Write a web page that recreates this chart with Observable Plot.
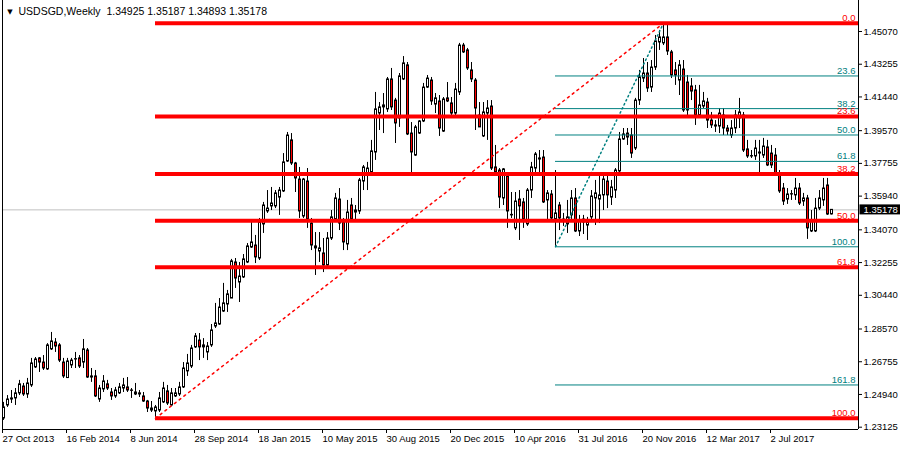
<!DOCTYPE html>
<html><head><meta charset="utf-8">
<script src="https://cdn.jsdelivr.net/npm/d3@7"></script>
<script src="https://cdn.jsdelivr.net/npm/@observablehq/plot@0.6"></script>
<style>html,body{margin:0;padding:0;background:#fff;}</style>
</head><body>
<div id="chart"></div>
<script>
const symbol = "USDSGD";
const timeframe = "Weekly";
const firstWeek = "2013-10-27";

const open = [
1.2361,1.2433,1.2466,1.2472,1.2500,1.2538,1.2494,1.2544,1.2644,1.2694,
1.2671,1.2633,1.2744,1.2782,1.2766,1.2671,1.2585,1.2655,1.2688,1.2694,
1.2671,1.2738,1.2594,1.2594,1.2466,1.2522,1.2550,1.2505,1.2483,1.2500,
1.2527,1.2533,1.2516,1.2505,1.2500,1.2483,1.2455,1.2416,1.2400,1.2405,
1.2450,1.2511,1.2433,1.2483,1.2494,1.2533,1.2622,1.2649,1.2755,1.2793,
1.2766,1.2727,1.2766,1.2871,1.2882,1.2954,1.2993,1.3026,1.3226,1.3115,
1.3143,1.3226,1.3309,1.3320,1.3248,1.3437,1.3509,1.3537,1.3537,1.3586,
1.3620,1.3786,1.3903,1.3775,1.3686,1.3481,1.3675,1.3442,1.3315,1.3287,
1.3276,1.3209,1.3359,1.3464,1.3575,1.3448,1.3326,1.3542,1.3503,1.3509,
1.3675,1.3708,1.3725,1.3836,1.4052,1.4086,1.4075,1.4241,1.4124,1.4025,
1.4241,1.4319,1.3941,1.3819,1.3941,1.4008,1.4196,1.4235,1.4102,1.4119,
1.3952,1.4136,1.4108,1.4052,1.4169,1.4429,1.4402,1.4291,1.4235,1.4041,
1.3925,1.4052,1.4091,1.3753,1.3736,1.3581,1.3703,1.3487,1.3415,1.3575,
1.3559,1.3437,1.3625,1.3747,1.3803,1.3808,1.3570,1.3603,1.3464,1.3542,
1.3464,1.3437,1.3487,1.3581,1.3398,1.3448,1.3431,1.3476,1.3581,1.3575,
1.3598,1.3675,1.3586,1.3625,1.3731,1.3908,1.3941,1.3930,1.3858,1.4124,
1.4246,1.4274,1.4196,1.4307,1.4446,1.4441,1.4474,1.4391,1.4291,1.4235,
1.4296,1.4224,1.4202,1.4180,1.4041,1.4091,1.4113,1.4013,1.3986,1.3980,
1.4041,1.3969,1.3930,1.3969,1.4025,1.4041,1.3853,1.3814,1.3814,1.3830,
1.3819,1.3864,1.3830,1.3819,1.3708,1.3636,1.3575,1.3603,1.3598,1.3636,
1.3564,1.3581,1.3398,1.3398,1.3525,1.3570,1.3653,1.34925
];
const high = [
1.2450,1.2488,1.2516,1.2527,1.2572,1.2555,1.2583,1.2694,1.2699,1.2699,
1.2710,1.2776,1.2838,1.2804,1.2776,1.2694,1.2694,1.2694,1.2727,1.2710,
1.2799,1.2749,1.2638,1.2627,1.2544,1.2599,1.2572,1.2527,1.2533,1.2555,
1.2583,1.2588,1.2527,1.2555,1.2516,1.2505,1.2461,1.2455,1.2433,1.2505,
1.2561,1.2544,1.2527,1.2527,1.2561,1.2671,1.2716,1.2766,1.2832,1.2832,
1.2804,1.2782,1.2882,1.2999,1.3026,1.3110,1.3071,1.3243,1.3248,1.3226,
1.3270,1.3331,1.3448,1.3376,1.3470,1.3559,1.3625,1.3642,1.3625,1.3642,
1.3830,1.3947,1.3941,1.3781,1.3753,1.3692,1.3747,1.3470,1.3392,1.3392,
1.3359,1.3392,1.3514,1.3609,1.3636,1.3470,1.3570,1.3581,1.3542,1.3692,
1.3764,1.3781,1.3903,1.4169,1.4113,1.4163,1.4252,1.4302,1.4136,1.4274,
1.4368,1.4335,1.4002,1.3986,1.4013,1.4219,1.4263,1.4252,1.4163,1.4152,
1.4141,1.4224,1.4141,1.4219,1.4441,1.4441,1.4413,1.4335,1.4246,1.4113,
1.4113,1.4124,1.4124,1.3875,1.3747,1.3747,1.3708,1.3614,1.3614,1.3625,
1.3581,1.3636,1.3781,1.3836,1.3847,1.3847,1.3625,1.3625,1.3736,1.3559,
1.3498,1.3570,1.3625,1.3636,1.3487,1.3487,1.3476,1.3625,1.3681,1.3714,
1.3708,1.3708,1.3681,1.3747,1.3947,1.3969,1.3969,1.3969,1.4136,1.4291,
1.4357,1.4335,1.4346,1.4485,1.4513,1.4553,1.4540,1.4402,1.4335,1.4346,
1.4346,1.4263,1.4246,1.4208,1.4208,1.4169,1.4136,1.4058,1.4013,1.4080,
1.4080,1.3986,1.4013,1.4069,1.4136,1.4058,1.3903,1.3847,1.3903,1.3903,
1.3914,1.3903,1.3875,1.3858,1.3736,1.3664,1.3636,1.3625,1.3692,1.3664,
1.3609,1.3598,1.3514,1.3581,1.3625,1.3692,1.3692,1.35187
];
const low = [
1.2350,1.2422,1.2444,1.2433,1.2488,1.2483,1.2472,1.2533,1.2638,1.2616,
1.2627,1.2627,1.2738,1.2727,1.2671,1.2583,1.2583,1.2638,1.2638,1.2638,
1.2638,1.2583,1.2561,1.2477,1.2450,1.2505,1.2516,1.2461,1.2472,1.2494,
1.2505,1.2505,1.2472,1.2488,1.2477,1.2450,1.2394,1.2394,1.2362,1.2394,
1.2444,1.2433,1.2428,1.2477,1.2483,1.2527,1.2594,1.2638,1.2749,1.2682,
1.2694,1.2682,1.2755,1.2860,1.2877,1.2949,1.2949,1.3026,1.3082,1.3004,
1.3137,1.3220,1.3304,1.3220,1.3237,1.3387,1.3498,1.3514,1.3525,1.3487,
1.3614,1.3781,1.3764,1.3614,1.3470,1.3470,1.3415,1.3292,1.3154,1.3226,
1.3170,1.3193,1.3348,1.3448,1.3403,1.3292,1.3292,1.3448,1.3448,1.3492,
1.3625,1.3625,1.3720,1.3792,1.3958,1.3941,1.4058,1.4069,1.3886,1.3975,
1.4235,1.3930,1.3725,1.3814,1.3936,1.4002,1.4191,1.4097,1.4052,1.3925,
1.3947,1.4113,1.4041,1.4030,1.4152,1.4385,1.4291,1.4224,1.3958,1.3975,
1.3919,1.3903,1.3736,1.3720,1.3525,1.3542,1.3415,1.3470,1.3403,1.3348,
1.3415,1.3426,1.3581,1.3725,1.3725,1.3553,1.3459,1.3459,1.3313,1.3403,
1.3426,1.3387,1.3448,1.3392,1.3370,1.3381,1.3348,1.3448,1.3431,1.3442,
1.3514,1.3525,1.3542,1.3581,1.3725,1.3903,1.3875,1.3803,1.3847,1.4097,
1.4224,1.4169,1.4169,1.4291,1.4402,1.4429,1.4374,1.4246,1.4208,1.4152,
1.4058,1.4025,1.4124,1.3986,1.4025,1.4080,1.3969,1.3969,1.3947,1.3941,
1.3930,1.3930,1.3914,1.3941,1.3969,1.3836,1.3803,1.3803,1.3792,1.3725,
1.3803,1.3758,1.3747,1.3708,1.3609,1.3542,1.3548,1.3570,1.3570,1.3542,
1.3537,1.3354,1.3392,1.3392,1.3514,1.3537,1.3487,1.34893
];
const close = [
1.2422,1.2466,1.2472,1.2500,1.2550,1.2494,1.2555,1.2666,1.2688,1.2671,
1.2638,1.2766,1.2788,1.2760,1.2682,1.2594,1.2677,1.2682,1.2690,1.2649,
1.2744,1.2588,1.2588,1.2483,1.2527,1.2566,1.2527,1.2483,1.2516,1.2533,
1.2544,1.2516,1.2514,1.2494,1.2494,1.2455,1.2416,1.2405,1.2422,1.2472,
1.2527,1.2444,1.2500,1.2500,1.2533,1.2638,1.2666,1.2749,1.2816,1.2755,
1.2755,1.2760,1.2849,1.2888,1.2976,1.2999,1.3049,1.3232,1.3137,1.3148,
1.3243,1.3315,1.3337,1.3254,1.3448,1.3542,1.3525,1.3553,1.3609,1.3625,
1.3781,1.3930,1.3775,1.3692,1.3509,1.3686,1.3464,1.3320,1.3304,1.3304,
1.3209,1.3359,1.3476,1.3581,1.3442,1.3337,1.3503,1.3464,1.3514,1.3681,
1.3753,1.3747,1.3842,1.4075,1.4086,1.4097,1.4241,1.4086,1.3997,1.4258,
1.4330,1.3936,1.3836,1.3975,1.4008,1.4196,1.4246,1.4119,1.4136,1.3969,
1.4130,1.4119,1.4052,1.4185,1.4429,1.4391,1.4302,1.4241,1.4080,1.3975,
1.4058,1.4080,1.3747,1.3725,1.3586,1.3742,1.3509,1.3490,1.3564,1.3537,
1.3464,1.3625,1.3753,1.3825,1.3797,1.3559,1.3609,1.3470,1.3498,1.3470,
1.3462,1.3476,1.3581,1.3398,1.3453,1.3464,1.3448,1.3592,1.3609,1.3598,
1.3686,1.3598,1.3642,1.3736,1.3908,1.3936,1.3919,1.3830,1.4124,1.4252,
1.4274,1.4191,1.4307,1.4452,1.4474,1.4474,1.4396,1.4263,1.4263,1.4319,
1.4069,1.4069,1.4174,1.4041,1.4097,1.4119,1.4013,1.3986,1.3980,1.4052,
1.3969,1.3952,1.3969,1.4041,1.4058,1.3847,1.3814,1.3816,1.3858,1.3836,
1.3869,1.3764,1.3764,1.3720,1.3620,1.3564,1.3603,1.3605,1.3636,1.3553,
1.3581,1.3415,1.3459,1.3525,1.3581,1.3636,1.3492,1.35178
];

const yTicks = [1.45070,1.43255,1.41440,1.39570,1.37755,1.35940,1.34070,1.32255,1.30440,1.28570,1.26755,1.24940,1.23125];
const xTickLabels = ["27 Oct 2013","16 Feb 2014","8 Jun 2014","28 Sep 2014","18 Jan 2015","10 May 2015","30 Aug 2015","20 Dec 2015","10 Apr 2016","31 Jul 2016","20 Nov 2016","12 Mar 2017","2 Jul 2017"];

const redFibLevels = [0, 23.6, 38.2, 50, 61.8, 100];
const tealFibLevels = [0, 23.6, 38.2, 50, 61.8, 100, 161.8];
const redFibWeeks = [38, 165];   // swing low week, swing high week
const tealFibWeeks = [138, 165];

// ---- build ----
const WEEK = 7 * 864e5;
const t0 = Date.parse(firstWeek + "T00:00:00Z");
const dates = open.map((_, i) => new Date(t0 + i * WEEK));
const candles = open.map((o, i) => ({date: dates[i], o, h: high[i], l: low[i], c: close[i], up: close[i] >= o}));
const xDomain = [new Date(t0 - 0.25 * WEEK), new Date(t0 + 213.75 * WEEK)];
const yDomain = [1.22997, 1.46789];
const last = close.length - 1;

function fib([lw, hw], levels) {
  const lo = low[lw], hi = high[hw];
  return levels.map(l => ({level: l, price: hi - (hi - lo) * l / 100, from: dates[lw]}));
}
const redFib = fib(redFibWeeks, redFibLevels);
const tealFib = fib(tealFibWeeks, tealFibLevels);
const redTrend = [{date: dates[redFibWeeks[0]], p: low[redFibWeeks[0]]}, {date: dates[redFibWeeks[1]], p: high[redFibWeeks[1]]}];
const tealTrend = [{date: dates[tealFibWeeks[0]], p: low[tealFibWeeks[0]]}, {date: dates[tealFibWeeks[1]], p: high[tealFibWeeks[1]]}];

const parse = d3.utcParse("%d %b %Y");
const tickDates = xTickLabels.map(s => parse(s));
const labelOf = new Map(tickDates.map((d, i) => [+d, xTickLabels[i]]));

const priceTag = close[last].toFixed(5);
const title = `${symbol},${timeframe}  ${open[last].toFixed(5)} ${high[last].toFixed(5)} ${low[last].toFixed(5)} ${priceTag}`;
const TEAL = "#008080";

const plot = Plot.plot({
  width: 900, height: 450,
  marginLeft: 2, marginRight: 42, marginTop: 0, marginBottom: 21,
  style: {fontFamily: "'Liberation Sans', Arial, sans-serif", fontSize: "9.5px", background: "#fff", color: "#000", overflow: "visible"},
  x: {type: "utc", domain: xDomain, axis: null},
  y: {domain: yDomain, axis: null},
  marks: [
    Plot.ruleY([close[last]], {stroke: "#c0c0c0"}),
    Plot.ruleX(candles, {x: "date", y1: "l", y2: "h", stroke: "black"}),
    Plot.rect(candles, {
      x1: d => new Date(+d.date - 0.125 * WEEK), x2: d => new Date(+d.date + 0.375 * WEEK),
      y1: d => Math.min(d.o, d.c), y2: d => Math.max(d.o, d.c),
      fill: d => d.up ? "white" : "red", stroke: "black"
    }),
    Plot.ruleY(tealFib, {y: "price", x1: "from", x2: () => xDomain[1], stroke: TEAL}),
    Plot.line(tealTrend, {x: "date", y: "p", stroke: TEAL, strokeDasharray: "1.5,3"}),
    Plot.line(redTrend, {x: "date", y: "p", stroke: "red", strokeDasharray: "2,4"}),
    Plot.ruleY(redFib, {y: "price", x1: "from", x2: () => xDomain[1], stroke: "red", strokeWidth: 4}),
    Plot.text(tealFib.filter(d => d.level !== 0), {x: () => xDomain[1], y: "price", text: d => d.level.toFixed(1), textAnchor: "end", dx: -3, dy: -5, fill: TEAL}),
    Plot.text(redFib, {x: () => xDomain[1], y: "price", text: d => d.level.toFixed(1), textAnchor: "end", dx: -3, dy: -5, fill: "red"}),
    Plot.ruleX(xDomain, {stroke: "black"}),
    Plot.ruleY([yDomain[0]], {stroke: "black"}),
    Plot.axisY(yTicks, {anchor: "right", tickSize: 3, tickPadding: 2, tickFormat: d => d.toFixed(5), textAnchor: "start", label: null}),
    Plot.axisX(tickDates, {anchor: "bottom", tickSize: 4, tickPadding: 2, tickFormat: d => labelOf.get(+d), textAnchor: "start", dx: -1, label: null}),
    Plot.text([close[last]], {y: d => d, frameAnchor: "right", dx: 5, textAnchor: "start", fill: "white", text: d => d.toFixed(5)}),
    Plot.text([title], {frameAnchor: "top-left", dx: 16, dy: 11, lineAnchor: "middle", textAnchor: "start", fontSize: 10.5, text: d => d}),
    Plot.text(["\u25BC"], {frameAnchor: "top-left", dx: 7.5, dy: 11, lineAnchor: "middle", textAnchor: "middle", fontSize: 7, text: d => d, fontFamily: "DejaVu Sans"})
  ]
});
document.getElementById("chart").append(plot);

// black background behind the current price tag on the price axis
function isWhite(el) {
  for (let n = el; n && n !== plot; n = n.parentNode) {
    const f = n.getAttribute && n.getAttribute("fill");
    if (f) return f === "white";
  }
  return false;
}
d3.select(plot).selectAll("text")
  .filter(function() { return this.textContent === priceTag && isWhite(this); })
  .each(function() {
    const bb = this.getBBox();
    const r = document.createElementNS("http://www.w3.org/2000/svg", "rect");
    r.setAttribute("x", bb.x - 4);
    r.setAttribute("y", bb.y + 0.5);
    r.setAttribute("width", bb.width + 8);
    r.setAttribute("height", bb.height - 1);
    r.setAttribute("fill", "black");
    const tf = this.getAttribute("transform");
    if (tf) r.setAttribute("transform", tf);
    this.parentNode.insertBefore(r, this);
  });
</script>
</body></html>
